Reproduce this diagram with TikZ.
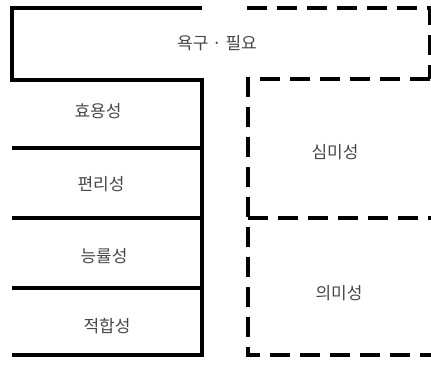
\documentclass[tikz,border=0pt]{standalone}
\usepackage{fontspec}
\newfontfamily\kr{Noto Sans CJK KR}
\begin{document}
\begin{tikzpicture}[x=1pt,y=-1pt,
  solidline/.style={line width=4pt,line cap=rect,line join=miter,black},
  dashline/.style={line width=4pt,black,dash pattern=on 20pt off 10pt},
  lbl/.style={font=\kr\fontsize{17}{19}\selectfont,text=black!72,inner sep=0pt}]
\useasboundingbox (0,0) rectangle (431,365);
% solid left structure
\draw[solidline] (200,8) -- (12,8) -- (12,80) -- (202,80) -- (202,355) -- (14,355);
\draw[solidline] (14,148) -- (202,148);
\draw[solidline] (14,218) -- (202,218);
\draw[solidline] (14,288) -- (202,288);
% dashed right structure
\draw[dashline] (247,8) -- (430,8) -- (430,79);
\draw[dashline] (430,79) -- (248,79) -- (248,355) -- (431,355);
\draw[dashline] (248,218) -- (431,218);
% labels
\node[lbl] (need) at (217,43) {욕구 · 필요};
\node[lbl] (a) at (98,111) {효용성};
\node[lbl] (b) at (101,184) {편리성};
\node[lbl] (c) at (104,256) {능률성};
\node[lbl] (d) at (107,326) {적합성};
\node[lbl] (e) at (335,152) {심미성};
\node[lbl] (f) at (339,293) {의미성};
\end{tikzpicture}
\end{document}
